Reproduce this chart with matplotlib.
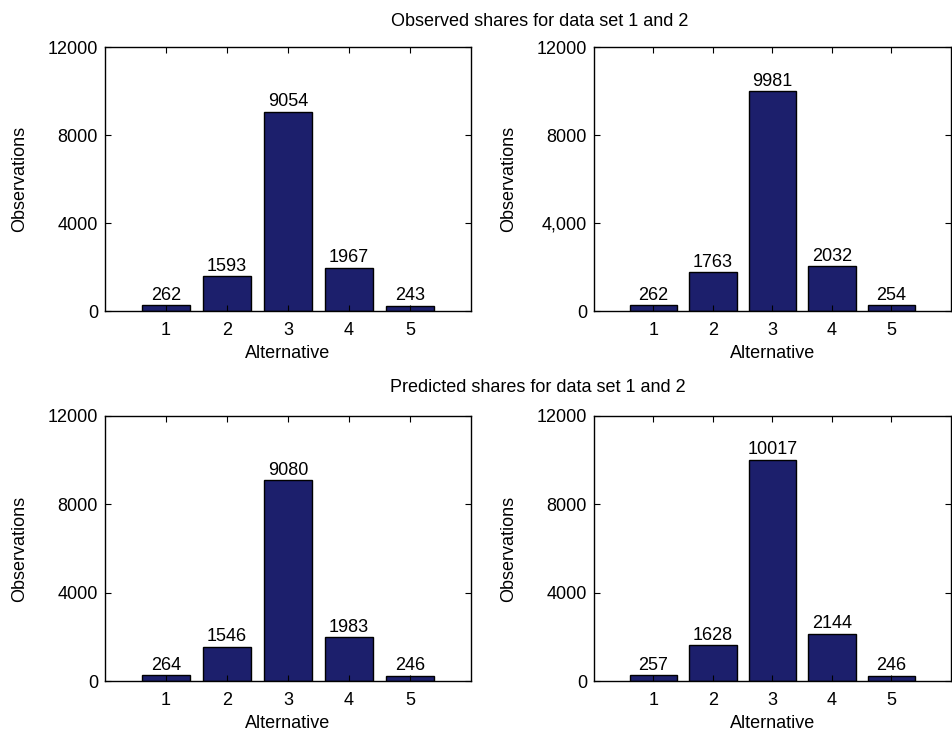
import numpy as np
from matplotlib import pyplot as plt
from matplotlib.ticker import FixedLocator, FixedFormatter

plt.rcParams['font.family'] = ['Liberation Sans', 'DejaVu Sans']
plt.rcParams['font.size'] = 13

alternatives = [1, 2, 3, 4, 5]
observed_1 = [262, 1593, 9054, 1967, 243]
observed_2 = [262, 1763, 9981, 2032, 254]
predicted_1 = [264, 1546, 9080, 1983, 246]
predicted_2 = [257, 1628, 10017, 2144, 246]

ytick_vals = [0, 4000, 8000, 12000]
ytick_default = ['0', '4000', '8000', '12000']
ytick_comma = ['0', '4,000', '8000', '12000']

bar_color = '#1c1f6c'

W, H = 953, 733
fig = plt.figure(figsize=(W / 100, H / 100), dpi=100)

# axes boxes in pixels: left, top, right, bottom
boxes = [
    (105, 47, 471, 311, observed_1, ytick_default),
    (594, 47, 951, 311, observed_2, ytick_comma),
    (105, 416, 471, 681, predicted_1, ytick_default),
    (594, 416, 951, 681, predicted_2, ytick_default),
]

for l, t, r, b, values, ylabels in boxes:
    ax = fig.add_axes([l / W, 1 - b / H, (r - l) / W, (b - t) / H])
    ax.bar(alternatives, values, width=0.8, color=bar_color, edgecolor='black', linewidth=1)
    for x, v in zip(alternatives, values):
        ax.annotate(str(v), (x, v), xytext=(0, 1), textcoords='offset points',
                    ha='center', va='bottom', fontsize=13)
    ax.set_xlim(0, 6)
    ax.set_ylim(0, 12000)
    ax.set_xticks(alternatives)
    ax.yaxis.set_major_locator(FixedLocator(ytick_vals))
    ax.yaxis.set_major_formatter(FixedFormatter(ylabels))
    ax.tick_params(direction='in', top=True, right=True, length=4, width=0.8, pad=5)
    ax.tick_params(axis='x', pad=8)
    ax.set_xlabel('Alternative', labelpad=4)
    ax.set_ylabel('Observations', labelpad=14)
    for s in ax.spines.values():
        s.set_linewidth(1)

fig.text(540 / W, 1 - 21 / H, 'Observed shares for data set 1 and 2', ha='center', va='center', fontsize=13)
fig.text(538 / W, 1 - 388 / H, 'Predicted shares for data set 1 and 2', ha='center', va='center', fontsize=13)

plt.savefig('out.png', dpi=100)
